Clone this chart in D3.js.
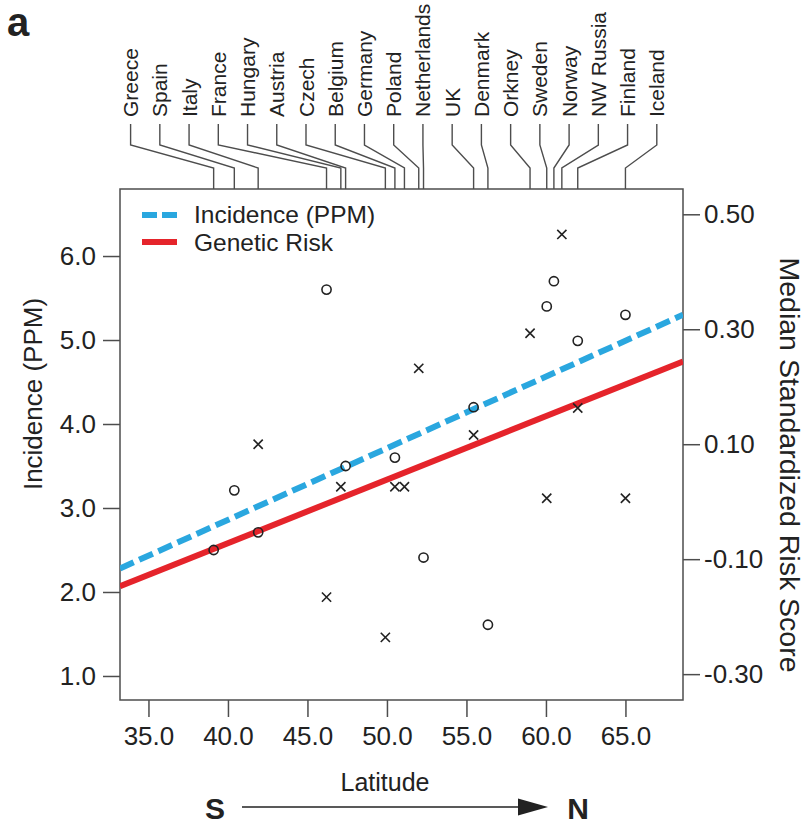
<!DOCTYPE html>
<html>
<head>
<meta charset="utf-8">
<script src="https://cdn.jsdelivr.net/npm/d3@7"></script>
<style>
  html, body { margin: 0; padding: 0; background: #fff; }
  svg text { font-family: "Liberation Sans", Arial, Helvetica, sans-serif; fill: #222; }
</style>
</head>
<body>
<svg id="chart" width="809" height="825"></svg>
<script>
// ---------------- data ----------------
const countries = ["Greece","Spain","Italy","France","Hungary","Austria","Czech","Belgium","Germany","Poland","Netherlands","UK","Denmark","Orkney","Sweden","Norway","NW Russia","Finland","Iceland"];
const latitude = [39.1, 40.4, 41.9, 46.2, 47.1, 47.4, 49.9, 50.5, 51.1, 52.0, 52.3, 55.45, 56.35, 59.0, 60.05, 60.5, 61.0, 62.0, 65.0];
const incidence = [2.50, 3.21, 2.71, 5.60, null, 3.50, null, 3.60, null, null, 2.41, 4.20, 1.61, null, 5.40, 5.70, null, 4.99, 5.30];
const geneticRisk = [null, null, 0.100, -0.166, 0.026, null, -0.236, 0.026, 0.026, 0.232, null, 0.116, null, 0.293, 0.006, null, 0.465, 0.163, 0.006];

const fitLatitude = [33.21, 68.62];
const incidenceFit = [2.28, 5.30];
const riskFit = [-0.147, 0.244];

const xDomain = [33.21, 68.62];
const leftDomain = [0.714, 6.798];
const rightDomain = [-0.345, 0.544];
const xTicks = [35, 40, 45, 50, 55, 60, 65];
const leftTicks = [1, 2, 3, 4, 5, 6];
const rightTicks = [-0.3, -0.1, 0.1, 0.3, 0.5];

const legendLabels = ["Incidence (PPM)", "Genetic Risk"];

// ---------------- layout ----------------
const L = 120, R = 683, T = 189, B = 700;
const blue = "#2aa7df", red = "#e5242b", ink = "#222", frame = "#4d4d4d";
const tickFont = 26;

const svg = d3.select("#chart");
const x = d3.scaleLinear().domain(xDomain).range([L, R]);
const yL = d3.scaleLinear().domain(leftDomain).range([B, T]);
const yR = d3.scaleLinear().domain(rightDomain).range([B, T]);

// panel letter
svg.append("text").attr("x", 7).attr("y", 36).attr("font-size", 40).attr("font-weight", "bold").text("a");

// axes
const fmt1 = d => d.toFixed(1);
const fmt2 = d => d.toFixed(2);

const gx = svg.append("g").attr("transform", `translate(0,${B})`)
  .call(d3.axisBottom(x).tickValues(xTicks).tickFormat(fmt1).tickSize(17).tickSizeOuter(0));
const gl = svg.append("g").attr("transform", `translate(${L},0)`)
  .call(d3.axisLeft(yL).tickValues(leftTicks).tickFormat(fmt1).tickSize(17).tickPadding(7).tickSizeOuter(0));
const gr = svg.append("g").attr("transform", `translate(${R},0)`)
  .call(d3.axisRight(yR).tickValues(rightTicks).tickFormat(fmt2).tickSize(17).tickPadding(4).tickSizeOuter(0));
[gx, gl, gr].forEach(g => {
  g.select(".domain").remove();
  g.selectAll(".tick line").attr("stroke", frame).attr("stroke-width", 1.5);
  g.selectAll(".tick text").attr("font-size", tickFont).attr("fill", ink)
    .attr("font-family", "'Liberation Sans', Arial, sans-serif");
});
gx.selectAll(".tick text").attr("y", 45).attr("dy", 0);

// frame
svg.append("rect").attr("x", L).attr("y", T).attr("width", R - L).attr("height", B - T)
  .attr("fill", "none").attr("stroke", frame).attr("stroke-width", 1.5);

// top country labels with leader lines
const labelX = d3.scalePoint().domain(countries).range([130.6, 656.8]);
const lead = svg.append("g");
countries.forEach((c, i) => {
  const lx = labelX(c), tx = x(latitude[i]);
  lead.append("path")
    .attr("d", d3.line()([[lx, 124], [lx, 145], [tx, 168], [tx, T]]))
    .attr("fill", "none").attr("stroke", frame).attr("stroke-width", 1.4);
  lead.append("text")
    .attr("transform", `translate(${lx},117) rotate(-90)`)
    .attr("dy", "0.36em").attr("font-size", 21).text(c);
});

// fit lines
svg.append("clipPath").attr("id", "clip").append("rect")
  .attr("x", L).attr("y", T).attr("width", R - L).attr("height", B - T);
const plot = svg.append("g").attr("clip-path", "url(#clip)");
plot.append("path")
  .attr("d", d3.line().x((d, i) => x(fitLatitude[i])).y(d => yR(d))(riskFit))
  .attr("stroke", red).attr("stroke-width", 6).attr("fill", "none");
plot.append("path")
  .attr("d", d3.line().x((d, i) => x(fitLatitude[i])).y(d => yL(d))(incidenceFit))
  .attr("stroke", blue).attr("stroke-width", 6).attr("stroke-dasharray", "15,6").attr("fill", "none");

// points
const circ = countries.map((c, i) => ({lat: latitude[i], v: incidence[i]})).filter(d => d.v !== null);
const crosses = countries.map((c, i) => ({lat: latitude[i], v: geneticRisk[i]})).filter(d => d.v !== null);
plot.selectAll("circle.pt").data(circ).join("circle")
  .attr("cx", d => x(d.lat)).attr("cy", d => yL(d.v)).attr("r", 4.6)
  .attr("fill", "none").attr("stroke", ink).attr("stroke-width", 1.6);
const s = 4.6;
plot.selectAll("path.cross").data(crosses).join("path")
  .attr("d", d => { const cx = x(d.lat), cy = yR(d.v);
    return `M${cx - s},${cy - s}L${cx + s},${cy + s}M${cx - s},${cy + s}L${cx + s},${cy - s}`; })
  .attr("stroke", ink).attr("stroke-width", 1.6).attr("fill", "none");

// legend
const lg = svg.append("g");
lg.append("line").attr("x1", 142).attr("x2", 177).attr("y1", 215).attr("y2", 215)
  .attr("stroke", blue).attr("stroke-width", 6).attr("stroke-dasharray", "15,5");
lg.append("line").attr("x1", 142).attr("x2", 177).attr("y1", 242).attr("y2", 242)
  .attr("stroke", red).attr("stroke-width", 6);
lg.append("text").attr("x", 194).attr("y", 223).attr("font-size", 24.5).text(legendLabels[0]);
lg.append("text").attr("x", 194).attr("y", 251).attr("font-size", 24.5).text(legendLabels[1]);

// axis titles
svg.append("text").attr("transform", `translate(33,394) rotate(-90)`)
  .attr("text-anchor", "middle").attr("dy", "0.35em").attr("font-size", 26).text("Incidence (PPM)");
svg.append("text").attr("transform", `translate(790,465) rotate(90)`)
  .attr("text-anchor", "middle").attr("dy", "0.35em").attr("font-size", 28.5).text("Median Standardized Risk Score");
svg.append("text").attr("x", 385).attr("y", 791).attr("text-anchor", "middle")
  .attr("font-size", 25).text("Latitude");

// S -> N arrow
svg.append("text").attr("x", 215).attr("y", 819).attr("text-anchor", "middle")
  .attr("font-size", 30).attr("font-weight", "bold").text("S");
svg.append("text").attr("x", 578).attr("y", 819).attr("text-anchor", "middle")
  .attr("font-size", 30).attr("font-weight", "bold").text("N");
svg.append("line").attr("x1", 242).attr("x2", 520).attr("y1", 807).attr("y2", 807)
  .attr("stroke", ink).attr("stroke-width", 1.5);
svg.append("path").attr("d", "M518,798.5L548,807L518,815.5Z").attr("fill", ink);
</script>
</body>
</html>
